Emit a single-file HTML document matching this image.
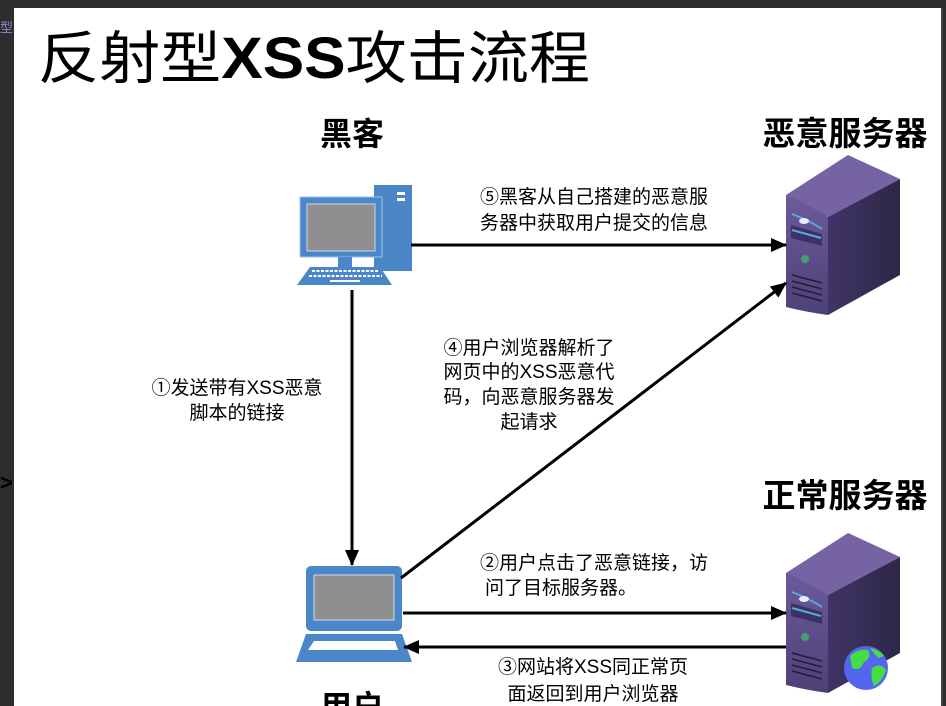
<!DOCTYPE html>
<html><head><meta charset="utf-8"><style>
html,body{margin:0;padding:0;background:#2d2d2d;}
body{width:946px;height:706px;overflow:hidden;position:relative;}
svg{position:absolute;left:0;top:0;}
text{font-family:"Liberation Sans","Noto Sans CJK SC",sans-serif;}
</style></head><body>
<svg width="946" height="706" viewBox="0 0 946 706" xmlns="http://www.w3.org/2000/svg">
<defs>
<marker id="ahb" markerWidth="16" markerHeight="14" refX="15" refY="7" orient="auto" markerUnits="userSpaceOnUse" viewBox="0 0 16 14">
<path d="M0,0 L16,7 L0,14 z" fill="#000"/></marker>
<linearGradient id="side" x1="0" x2="1" y1="0" y2="0"><stop offset="0" stop-color="#3f3466"/><stop offset="1" stop-color="#2e2748"/></linearGradient>
<linearGradient id="front" x1="0" x2="0" y1="0" y2="1"><stop offset="0" stop-color="#6c5a9a"/><stop offset="1" stop-color="#4e4078"/></linearGradient>
<g id="server">
<path d="M786,195 L848,155 L900,179 L828,217 Z" fill="#7563a3"/>
<path d="M828,217 L900,179 L900,275 L828,315 Z" fill="url(#side)"/>
<path d="M786,195 Q806,203 828,217 L828,315 Q806,312 786,307 Z" fill="url(#front)"/>
<path d="M792,214 Q808,220 822,229" stroke="#5aa8e0" stroke-width="2" fill="none"/>
<ellipse cx="804" cy="221" rx="5" ry="3" fill="#e8eef8"/>
<path d="M791,225 L822,234 L822,246 L791,238 Z" fill="#3d3266"/>
<path d="M792,230 L821,238" stroke="#5aa8e0" stroke-width="2"/>
<circle cx="805" cy="259" r="4" fill="#3fa070"/>
<path d="M792,275 L822,283 M792,281 L822,289 M792,287 L822,295 M792,293 L822,301" stroke="#231d3a" stroke-width="1.6"/>
</g>
</defs>
<rect x="14" y="8" width="928" height="698" fill="#fff"/>
<rect x="941" y="8" width="2" height="698" fill="#444"/>
<text x="0" y="32" font-size="13" fill="#8888cc">型</text>
<text x="0" y="490" font-size="22" font-weight="bold" fill="#000">&gt;</text>

<text x="38" y="78" font-size="57" fill="#000" textLength="552" lengthAdjust="spacingAndGlyphs">反射型<tspan font-weight="900" font-size="58">XSS</tspan>攻击流程</text>

<text x="352" y="145" font-size="32" font-weight="bold" text-anchor="middle">黑客</text>
<text x="845" y="145" font-size="33" font-weight="bold" text-anchor="middle">恶意服务器</text>
<text x="845" y="507" font-size="33" font-weight="bold" text-anchor="middle">正常服务器</text>
<text x="352" y="718" font-size="32" font-weight="bold" text-anchor="middle">用户</text>

<!-- desktop -->
<rect x="374" y="185" width="38" height="86" fill="#4a86c8"/>
<rect x="397" y="192" width="8" height="3" fill="#fff"/><rect x="397" y="198" width="8" height="3" fill="#fff"/>
<rect x="300" y="197" width="82" height="60" fill="#4a86c8" stroke="#9cc2ea" stroke-width="1"/>
<rect x="307" y="204" width="68" height="47" fill="#8f8f8f" stroke="#cfd8e0" stroke-width="1"/>
<rect x="338" y="257" width="14" height="10" fill="#4a86c8"/>
<path d="M310,267 L380,267 L392,285 L297,285 Z" fill="#4a86c8"/>
<path d="M312,271 L378,271 M309,276 L382,276" stroke="#fff" stroke-width="2" stroke-dasharray="3,1.5"/>
<rect x="330" y="280" width="30" height="2" fill="#fff"/>

<!-- laptop -->
<rect x="306" y="566" width="96" height="65" rx="5" fill="#4a86c8"/>
<rect x="314" y="575" width="80" height="45" fill="#8f8f8f" stroke="#cfd8e0" stroke-width="1"/>
<path d="M306,634 L402,634 L412,662 L296,662 Z" fill="#4a86c8"/>
<path d="M314,641 L395,641 L398,650 L308,650 Z" fill="#fff"/>

<use href="#server"/>
<use href="#server" transform="translate(0,378)"/>
<circle cx="866" cy="668" r="22" fill="#5566ee"/>
<path d="M850,656 Q858,648 868,650 Q872,658 864,662 Q860,672 852,668 Z M872,668 Q880,662 886,670 Q882,682 874,686 Q870,678 872,668 Z M870,648 Q880,650 884,656 L878,658 Z" fill="#44dd44"/>

<!-- arrows -->
<line x1="411" y1="245" x2="786" y2="245" stroke="#000" stroke-width="3" marker-end="url(#ahb)"/>
<line x1="352" y1="290" x2="352" y2="565" stroke="#000" stroke-width="3" marker-end="url(#ahb)"/>
<line x1="401" y1="578" x2="786" y2="283" stroke="#000" stroke-width="3" marker-end="url(#ahb)"/>
<line x1="403" y1="613" x2="786" y2="613" stroke="#000" stroke-width="3" marker-end="url(#ahb)"/>
<line x1="786" y1="647" x2="404" y2="647" stroke="#000" stroke-width="3" marker-end="url(#ahb)"/>

<g font-size="19" fill="#000">
<text x="480" y="203">⑤黑客从自己搭建的恶意服</text>
<text x="480" y="229">务器中获取用户提交的信息</text>
<text x="529" y="354" text-anchor="middle">④用户浏览器解析了</text>
<text x="529" y="378" text-anchor="middle">网页中的XSS恶意代</text>
<text x="529" y="403" text-anchor="middle">码，向恶意服务器发</text>
<text x="529" y="428" text-anchor="middle">起请求</text>
<text x="237" y="394" text-anchor="middle">①发送带有XSS恶意</text>
<text x="237" y="419" text-anchor="middle">脚本的链接</text>
<text x="480" y="569">②用户点击了恶意链接，访</text>
<text x="485" y="594">问了目标服务器。</text>
<text x="593" y="673" text-anchor="middle">③网站将XSS同正常页</text>
<text x="593" y="700" text-anchor="middle">面返回到用户浏览器</text>
</g>
</svg>
</body></html>
